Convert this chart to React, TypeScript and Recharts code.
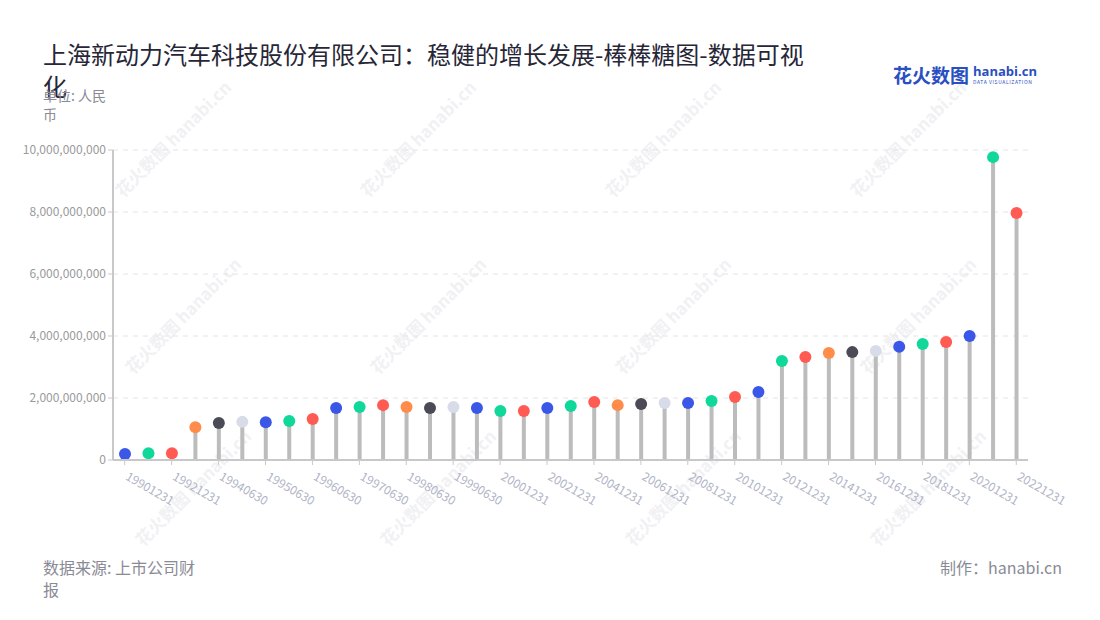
import React from 'react';
import { ComposedChart, Bar, XAxis, YAxis, CartesianGrid } from 'recharts';

const categories = [
  '19901231', '19911231', '19921231', '19931231', '19940630', '19941231', '19950630', '19951231',
  '19960630', '19961231', '19970630', '19971231', '19980630', '19981231', '19990630', '19991231',
  '20001231', '20011231', '20021231', '20031231', '20041231', '20051231', '20061231', '20071231',
  '20081231', '20091231', '20101231', '20111231', '20121231', '20131231', '20141231', '20151231',
  '20161231', '20171231', '20181231', '20191231', '20201231', '20211231', '20221231',
];

const values = [
  190000000, 220000000, 220000000, 1060000000, 1190000000, 1230000000, 1220000000, 1260000000,
  1320000000, 1680000000, 1710000000, 1770000000, 1710000000, 1680000000, 1710000000, 1680000000,
  1580000000, 1580000000, 1680000000, 1740000000, 1870000000, 1770000000, 1810000000, 1840000000,
  1840000000, 1900000000, 2030000000, 2190000000, 3190000000, 3320000000, 3450000000, 3480000000,
  3520000000, 3650000000, 3740000000, 3810000000, 4000000000, 9770000000, 7970000000,
];

const palette = ['#3a57e8', '#0fd89a', '#ff5b52', '#ff8c4b', '#4b4b57', '#d8dce8', '#3a57e8', '#0fd89a', '#ff5b52'];

const yTicks = [0, 2000000000, 4000000000, 6000000000, 8000000000, 10000000000];

const data = categories.map((c, i) => ({ name: c, value: values[i], color: palette[i % palette.length] }));

const FONT = '"Noto Sans CJK SC", "Noto Sans", sans-serif';

const Lollipop = (props: any) => {
  const { x, y, width, height, payload } = props;
  const cx = x + width / 2;
  return (
    <g>
      <rect x={cx - 2} y={y} width={4} height={Math.max(0, height)} fill="#bcbcbc" />
      <circle cx={cx} cy={y} r={6} fill={payload.color} />
    </g>
  );
};

const XTick = (props: any) => {
  const { x, y, payload } = props;
  return (
    <text
      x={x}
      y={y + 12}
      transform={`rotate(30 ${x} ${y + 12})`}
      textAnchor="start"
      fill="#b0b4c6"
      fontSize={12}
      fontFamily={FONT}
    >
      {payload.value}
    </text>
  );
};

const watermarks: [number, number][] = [];
[150, 330, 505].forEach((wy, r) => {
  [160, 405, 650, 895].forEach((wx) => {
    watermarks.push([wx + r * 10, wy - r * 3]);
  });
});

export default function App() {
  return (
    <div style={{ position: 'absolute', left: 0, top: 0, width: 1100, height: 620, background: '#fff', fontFamily: FONT, overflow: 'hidden' }}>
      {watermarks.map(([wx, wy], i) => (
        <div
          key={i}
          style={{
            position: 'absolute',
            left: wx - 60,
            top: wy - 12,
            width: 120,
            textAlign: 'center',
            transform: 'rotate(-45deg)',
            color: '#f1f1f4',
            fontSize: 17,
            fontWeight: 700,
            whiteSpace: 'nowrap',
          }}
        >
          花火数图 hanabi.cn
        </div>
      ))}
      <div style={{ position: 'absolute', left: 0, top: 0 }}>
        <ComposedChart
          width={1100}
          height={620}
          data={data}
          margin={{ top: 150, right: 72, bottom: 120, left: 0 }}
        >
          <CartesianGrid vertical={false} stroke="#e4e4e4" strokeDasharray="5 5" />
          <XAxis
            dataKey="name"
            interval={1}
            tick={<XTick />}
            tickLine={{ stroke: '#c8c8c8' }}
            axisLine={{ stroke: '#c8c8c8', strokeWidth: 2 }}
            tickSize={5}
            height={40}
          />
          <YAxis
            width={113}
            domain={[0, 10000000000]}
            ticks={yTicks}
            tickFormatter={(v: number) => v.toLocaleString('en-US')}
            tick={{ fill: '#9a9a9a', fontSize: 12, fontFamily: FONT }}
            tickLine={{ stroke: '#c8c8c8' }}
            axisLine={{ stroke: '#c8c8c8', strokeWidth: 2 }}
            tickSize={5}
          />
          <Bar dataKey="value" barSize={4} shape={<Lollipop />} isAnimationActive={false} />
        </ComposedChart>
      </div>
      <div style={{ position: 'absolute', left: 43, top: 38, width: 775, fontSize: 24, lineHeight: '32px', color: '#262637' }}>
        上海新动力汽车科技股份有限公司：稳健的增长发展-棒棒糖图-数据可视化
      </div>
      <div style={{ position: 'absolute', left: 43, top: 86, width: 70, fontSize: 14, lineHeight: '19px', color: '#8a8a96' }}>
        单位: 人民币
      </div>
      <div style={{ position: 'absolute', left: 893, top: 61, display: 'flex', alignItems: 'center' }}>
        <div style={{ fontSize: 19, fontWeight: 700, color: '#2a4fc0' }}>花火数图</div>
        <div style={{ marginLeft: 4, display: 'flex', flexDirection: 'column', lineHeight: 1 }}>
          <div style={{ fontSize: 13, fontWeight: 700, color: '#2a4fc0', fontFamily: '"Open Sans", sans-serif' }}>hanabi.cn</div>
          <div style={{ fontSize: 5, color: '#2a4fc0', letterSpacing: 0.6, marginTop: 1 }}>DATA VISUALIZATION</div>
        </div>
      </div>
      <div style={{ position: 'absolute', left: 43, top: 556, width: 160, fontSize: 16, lineHeight: '22px', color: '#8a8a96' }}>
        数据来源: 上市公司财报
      </div>
      <div style={{ position: 'absolute', right: 38, top: 556, fontSize: 16, lineHeight: '22px', color: '#8a8a96' }}>
        制作：hanabi.cn
      </div>
    </div>
  );
}
